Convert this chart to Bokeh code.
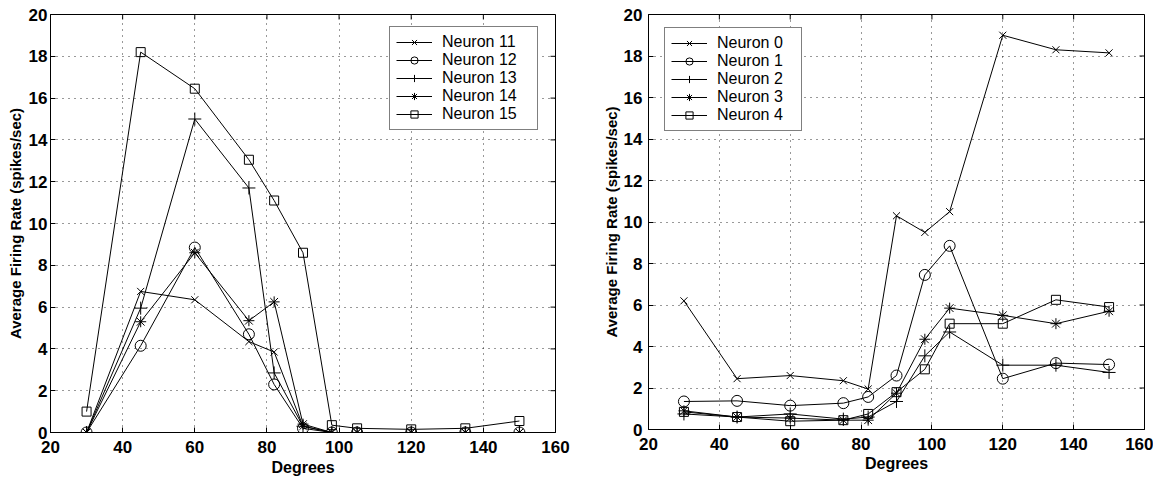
import math
from bokeh.plotting import figure
from bokeh.layouts import row, column
from bokeh.models import Range1d, Legend, LegendItem, FixedTicker
from bokeh.embed import file_html
from bokeh.resources import INLINE

degrees = [30, 45, 60, 75, 82, 90, 98, 105, 120, 135, 150]

left_labels = ["Neuron 11", "Neuron 12", "Neuron 13", "Neuron 14", "Neuron 15"]
n11 = [0, 6.75, 6.35, 4.35, 3.85, 0.3, 0, 0, 0, 0, 0]
n12 = [0, 4.15, 8.85, 4.7, 2.3, 0.2, 0, 0, 0, 0, 0]
n13 = [0, 5.95, 15.0, 11.7, 2.85, 0.3, 0, 0, 0, 0, 0]
n14 = [0, 5.3, 8.6, 5.35, 6.25, 0.4, 0, 0, 0, 0, 0]
n15 = [1.0, 18.2, 16.45, 13.05, 11.1, 8.6, 0.35, 0.2, 0.15, 0.2, 0.55]

right_labels = ["Neuron 0", "Neuron 1", "Neuron 2", "Neuron 3", "Neuron 4"]
n0 = [6.2, 2.45, 2.6, 2.35, 1.95, 10.3, 9.5, 10.5, 19.0, 18.3, 18.15]
n1 = [1.35, 1.38, 1.15, 1.27, 1.57, 2.6, 7.45, 8.85, 2.45, 3.2, 3.13]
n2 = [0.75, 0.6, 0.75, 0.5, 0.6, 1.35, 3.55, 4.7, 3.1, 3.1, 2.75]
n3 = [0.9, 0.6, 0.55, 0.45, 0.45, 1.75, 4.35, 5.85, 5.5, 5.1, 5.7]
n4 = [0.85, 0.6, 0.4, 0.45, 0.75, 1.8, 2.9, 5.1, 5.1, 6.25, 5.9]

x_ticks = [20, 40, 60, 80, 100, 120, 140, 160]
y_ticks = [0, 2, 4, 6, 8, 10, 12, 14, 16, 18, 20]

markers = ["x", "circle", "cross", "asterisk", "square"]
msizes = [10, 11, 13, 11, 9]

FONT = "Liberation Sans"


def style_axis(ax, label_size):
    ax.major_tick_in = 5
    ax.major_tick_out = 0
    ax.minor_tick_line_color = None
    ax.axis_line_color = "black"
    ax.major_tick_line_color = "black"
    ax.major_label_text_font = FONT
    ax.major_label_text_font_style = "bold"
    ax.major_label_text_font_size = "17px"
    ax.major_label_text_color = "black"
    ax.axis_label_text_font = FONT
    ax.axis_label_text_font_style = "bold"
    ax.axis_label_text_font_size = label_size
    ax.axis_label_text_color = "black"


def make_fig(width, height, borders, series, labels, legend_loc,
             ystd, ylab_std, xstd, xlab_std, label_w):
    bl, br, bt, bb = borders
    p = figure(width=width, height=height, output_backend="svg", toolbar_location=None,
               x_range=Range1d(20, 160), y_range=Range1d(0, 20),
               min_border_left=bl, min_border_right=br, min_border_top=bt, min_border_bottom=bb)
    p.outline_line_color = "black"
    p.outline_line_alpha = 1
    p.background_fill_color = "white"
    p.border_fill_color = "white"
    p.xaxis.axis_label = "Degrees"
    p.yaxis.axis_label = "Average Firing Rate (spikes/sec)"
    p.xaxis.ticker = FixedTicker(ticks=x_ticks)
    p.yaxis.ticker = FixedTicker(ticks=y_ticks)
    style_axis(p.xaxis[0], "16px")
    style_axis(p.yaxis[0], "15px")
    p.xaxis.major_label_standoff = xstd
    p.yaxis.major_label_standoff = ystd
    p.xaxis.axis_label_standoff = xlab_std
    p.yaxis.axis_label_standoff = ylab_std
    p.xgrid.ticker = FixedTicker(ticks=x_ticks)
    p.ygrid.ticker = FixedTicker(ticks=y_ticks)
    for g in (p.xgrid[0], p.ygrid[0]):
        g.grid_line_color = "black"
        g.grid_line_dash = "1 5"
        g.grid_line_width = 1
        g.grid_line_alpha = 0.8

    # inward tick marks on the top and right frame edges
    p.ray(x=x_ticks, y=[20] * len(x_ticks), length=5, length_units="screen",
          angle=-math.pi / 2, line_color="black", line_width=1)
    p.ray(x=[160] * len(y_ticks), y=y_ticks, length=5, length_units="screen",
          angle=math.pi, line_color="black", line_width=1)

    items = []
    for ys, lab, m, s in zip(series, labels, markers, msizes):
        ln = p.line(degrees, ys, line_color="black", line_width=1)
        sc = p.scatter(degrees, ys, marker=m, size=s, line_color="black",
                       fill_color=None, line_width=1)
        items.append(LegendItem(label=lab, renderers=[ln, sc]))
    leg = Legend(items=items, location=legend_loc)
    leg.label_text_font = FONT
    leg.label_text_font_size = "16px"
    leg.label_text_color = "black"
    leg.border_line_color = "black"
    leg.border_line_width = 1
    leg.background_fill_alpha = 1
    leg.padding = 6
    leg.spacing = 0
    leg.margin = 0
    leg.glyph_width = 36
    leg.glyph_height = 18
    leg.label_height = 18
    leg.label_width = label_w
    leg.label_standoff = 10
    p.add_layout(leg)
    return p


p1 = make_fig(580, 478, (50, 25, 14, 46), [n11, n12, n13, n14, n15], left_labels,
              (339, 302), 3, 2, 8, 3, 89)
p2 = make_fig(573, 478, (68, 9, 14, 49), [n0, n1, n2, n3, n4], right_labels,
              (16, 298), 6, 1, 8, 2, 78)

layout = row(column(p1), column(p2))
open("out.html", "w").write(file_html(layout, INLINE))
